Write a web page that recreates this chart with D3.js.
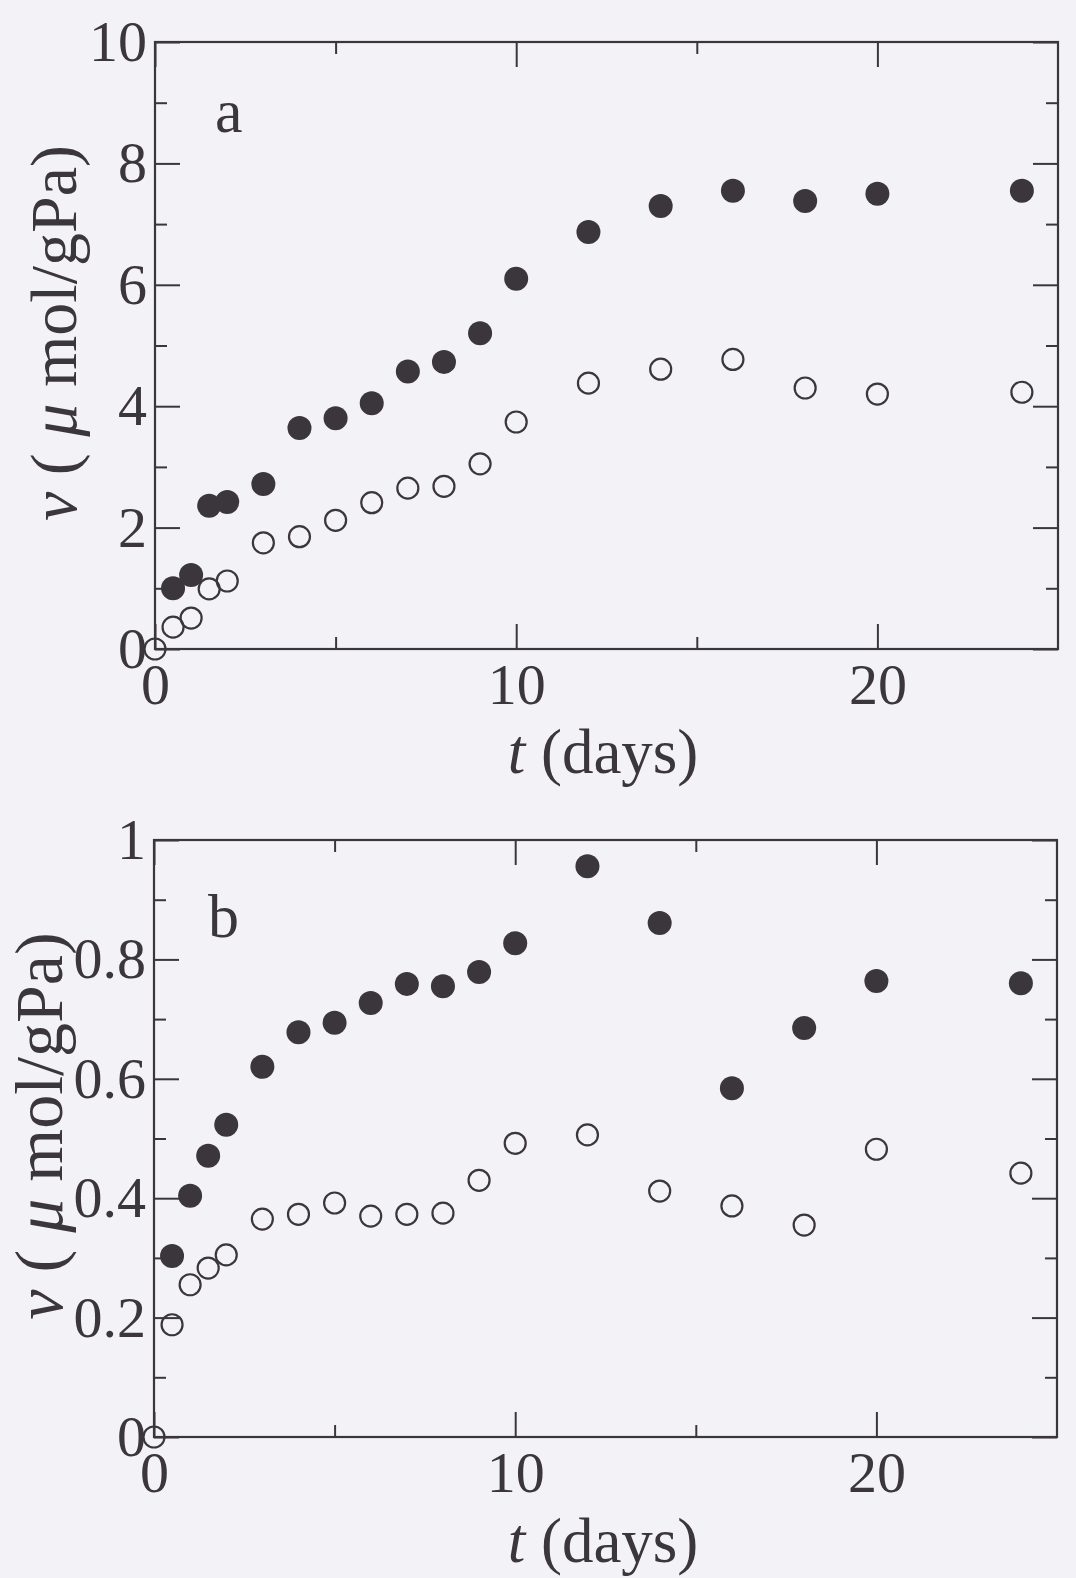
<!DOCTYPE html>
<html>
<head>
<meta charset="utf-8">
<script src="https://cdn.jsdelivr.net/npm/d3@7"></script>
<style>
body { margin: 0; background: #f3f2f6; }
svg { display: block; }
text { font-family: "Liberation Serif", "Times New Roman", serif; fill: #3b363b; }
</style>
</head>
<body>
<script>
// sampling days (open series also has t = 0)
var days = [0.5, 1, 1.5, 2, 3, 4, 5, 6, 7, 8, 9, 10, 12, 14, 16, 18, 20, 24];
var daysOpen = [0, 0.5, 1, 1.5, 2, 3, 4, 5, 6, 7, 8, 9, 10, 12, 14, 16, 18, 20, 24];

// panel a
var aFilled = [1.0, 1.22, 2.36, 2.42, 2.72, 3.64, 3.8, 4.05, 4.57, 4.73, 5.2, 6.1, 6.87, 7.3, 7.55, 7.38, 7.5, 7.55];
var aOpen = [0, 0.36, 0.51, 0.99, 1.12, 1.75, 1.85, 2.12, 2.41, 2.65, 2.68, 3.05, 3.74, 4.38, 4.61, 4.77, 4.3, 4.2, 4.23];

// panel b
var bFilled = [0.303, 0.404, 0.471, 0.523, 0.62, 0.678, 0.694, 0.727, 0.759, 0.755, 0.779, 0.827, 0.956, 0.861, 0.584, 0.685, 0.764, 0.76];
var bOpen = [0, 0.188, 0.255, 0.283, 0.305, 0.365, 0.373, 0.392, 0.37, 0.373, 0.375, 0.43, 0.492, 0.506, 0.412, 0.387, 0.355, 0.482, 0.442];

var xMajor = [0, 10, 20];
var xMinor = [5, 15];
var aYMajor = [0, 2, 4, 6, 8, 10];
var aYMinor = [1, 3, 5, 7, 9];
var aYLabels = ["0", "2", "4", "6", "8", "10"];
var bYMajor = [0, 0.2, 0.4, 0.6, 0.8, 1];
var bYMinor = [0.1, 0.3, 0.5, 0.7, 0.9];
var bYLabels = ["0", "0.2", "0.4", "0.6", "0.8", "1"];

var ink = "#3b363b";

var svg = d3.select("body").append("svg")
    .attr("width", 1076)
    .attr("height", 1578);

function drawPanel(p) {
    var x = d3.scaleLinear().domain([0, 25]).range([p.x0, p.x1]);
    var y = d3.scaleLinear().domain([0, p.ymax]).range([p.y1, p.y0]);
    var g = svg.append("g");

    var major = 25, minor = 12;

    // bottom
    g.append("g").attr("transform", "translate(0," + p.y1 + ")")
        .call(d3.axisBottom(x).tickValues(xMajor).tickSize(-major).tickPadding(14)
            .tickFormat(d3.format("d")));
    g.append("g").attr("transform", "translate(0," + p.y1 + ")")
        .call(d3.axisBottom(x).tickValues(xMinor).tickSize(-minor).tickFormat(""));
    // top
    g.append("g").attr("transform", "translate(0," + p.y0 + ")")
        .call(d3.axisTop(x).tickValues(xMajor).tickSize(-major).tickFormat(""));
    g.append("g").attr("transform", "translate(0," + p.y0 + ")")
        .call(d3.axisTop(x).tickValues(xMinor).tickSize(-minor).tickFormat(""));
    // left
    g.append("g").attr("transform", "translate(" + p.x0 + ",0)")
        .call(d3.axisLeft(y).tickValues(p.yMajor).tickSize(-major).tickPadding(8)
            .tickFormat(function(d, i) { return p.yLabels[i]; }));
    g.append("g").attr("transform", "translate(" + p.x0 + ",0)")
        .call(d3.axisLeft(y).tickValues(p.yMinor).tickSize(-minor).tickFormat(""));
    // right
    g.append("g").attr("transform", "translate(" + p.x1 + ",0)")
        .call(d3.axisRight(y).tickValues(p.yMajor).tickSize(-major).tickFormat(""));
    g.append("g").attr("transform", "translate(" + p.x1 + ",0)")
        .call(d3.axisRight(y).tickValues(p.yMinor).tickSize(-minor).tickFormat(""));

    g.selectAll(".domain").remove();
    g.selectAll(".tick line").attr("stroke", ink).attr("stroke-width", 2);
    g.selectAll(".tick text")
        .style("font-family", "'Liberation Serif', serif")
        .style("font-size", "58px")
        .attr("fill", ink);

    g.append("rect")
        .attr("x", p.x0).attr("y", p.y0)
        .attr("width", p.x1 - p.x0).attr("height", p.y1 - p.y0)
        .attr("fill", "none").attr("stroke", ink).attr("stroke-width", 2.2);

    g.append("g").selectAll("circle")
        .data(days.map(function(t, i) { return [t, p.filled[i]]; }))
        .enter().append("circle")
        .attr("cx", function(d) { return x(d[0]); })
        .attr("cy", function(d) { return y(d[1]); })
        .attr("r", 12)
        .attr("fill", ink);

    g.append("g").selectAll("circle")
        .data(daysOpen.map(function(t, i) { return [t, p.open[i]]; }))
        .enter().append("circle")
        .attr("cx", function(d) { return x(d[0]); })
        .attr("cy", function(d) { return y(d[1]); })
        .attr("r", 10.5)
        .attr("fill", "none")
        .attr("stroke", ink)
        .attr("stroke-width", 2.2);

    // panel letter
    g.append("text")
        .attr("x", p.letterX).attr("y", p.letterY)
        .style("font-size", "62px")
        .text(p.letter);

    // x title
    var xt = g.append("text")
        .attr("x", 603).attr("y", p.xTitleY)
        .attr("text-anchor", "middle")
        .style("font-size", "63px");
    xt.append("tspan").style("font-style", "italic").text("t");
    xt.append("tspan").text(" (days)");

    // y title
    var yt = g.append("text")
        .attr("transform", "translate(" + p.yTitleX + "," + p.yTitleY + ") rotate(-90)")
        .attr("text-anchor", "middle")
        .style("font-size", p.yTitleSize);
    yt.append("tspan").style("font-style", "italic").text("\u03bd");
    yt.append("tspan").text(" ( ");
    yt.append("tspan").style("font-style", "italic").text("\u03bc");
    yt.append("tspan").text(" mol/gPa)");
}

drawPanel({
    x0: 155, x1: 1058, y0: 42, y1: 649, ymax: 10,
    yMajor: aYMajor, yMinor: aYMinor, yLabels: aYLabels,
    filled: aFilled, open: aOpen,
    letter: "a", letterX: 215, letterY: 132,
    xTitleY: 773, yTitleX: 76, yTitleY: 333, yTitleSize: "66px"
});

drawPanel({
    x0: 154, x1: 1057, y0: 840, y1: 1437, ymax: 1,
    yMajor: bYMajor, yMinor: bYMinor, yLabels: bYLabels,
    filled: bFilled, open: bOpen,
    letter: "b", letterX: 208, letterY: 937,
    xTitleY: 1562, yTitleX: 62, yTitleY: 1126, yTitleSize: "68px"
});
</script>
</body>
</html>
